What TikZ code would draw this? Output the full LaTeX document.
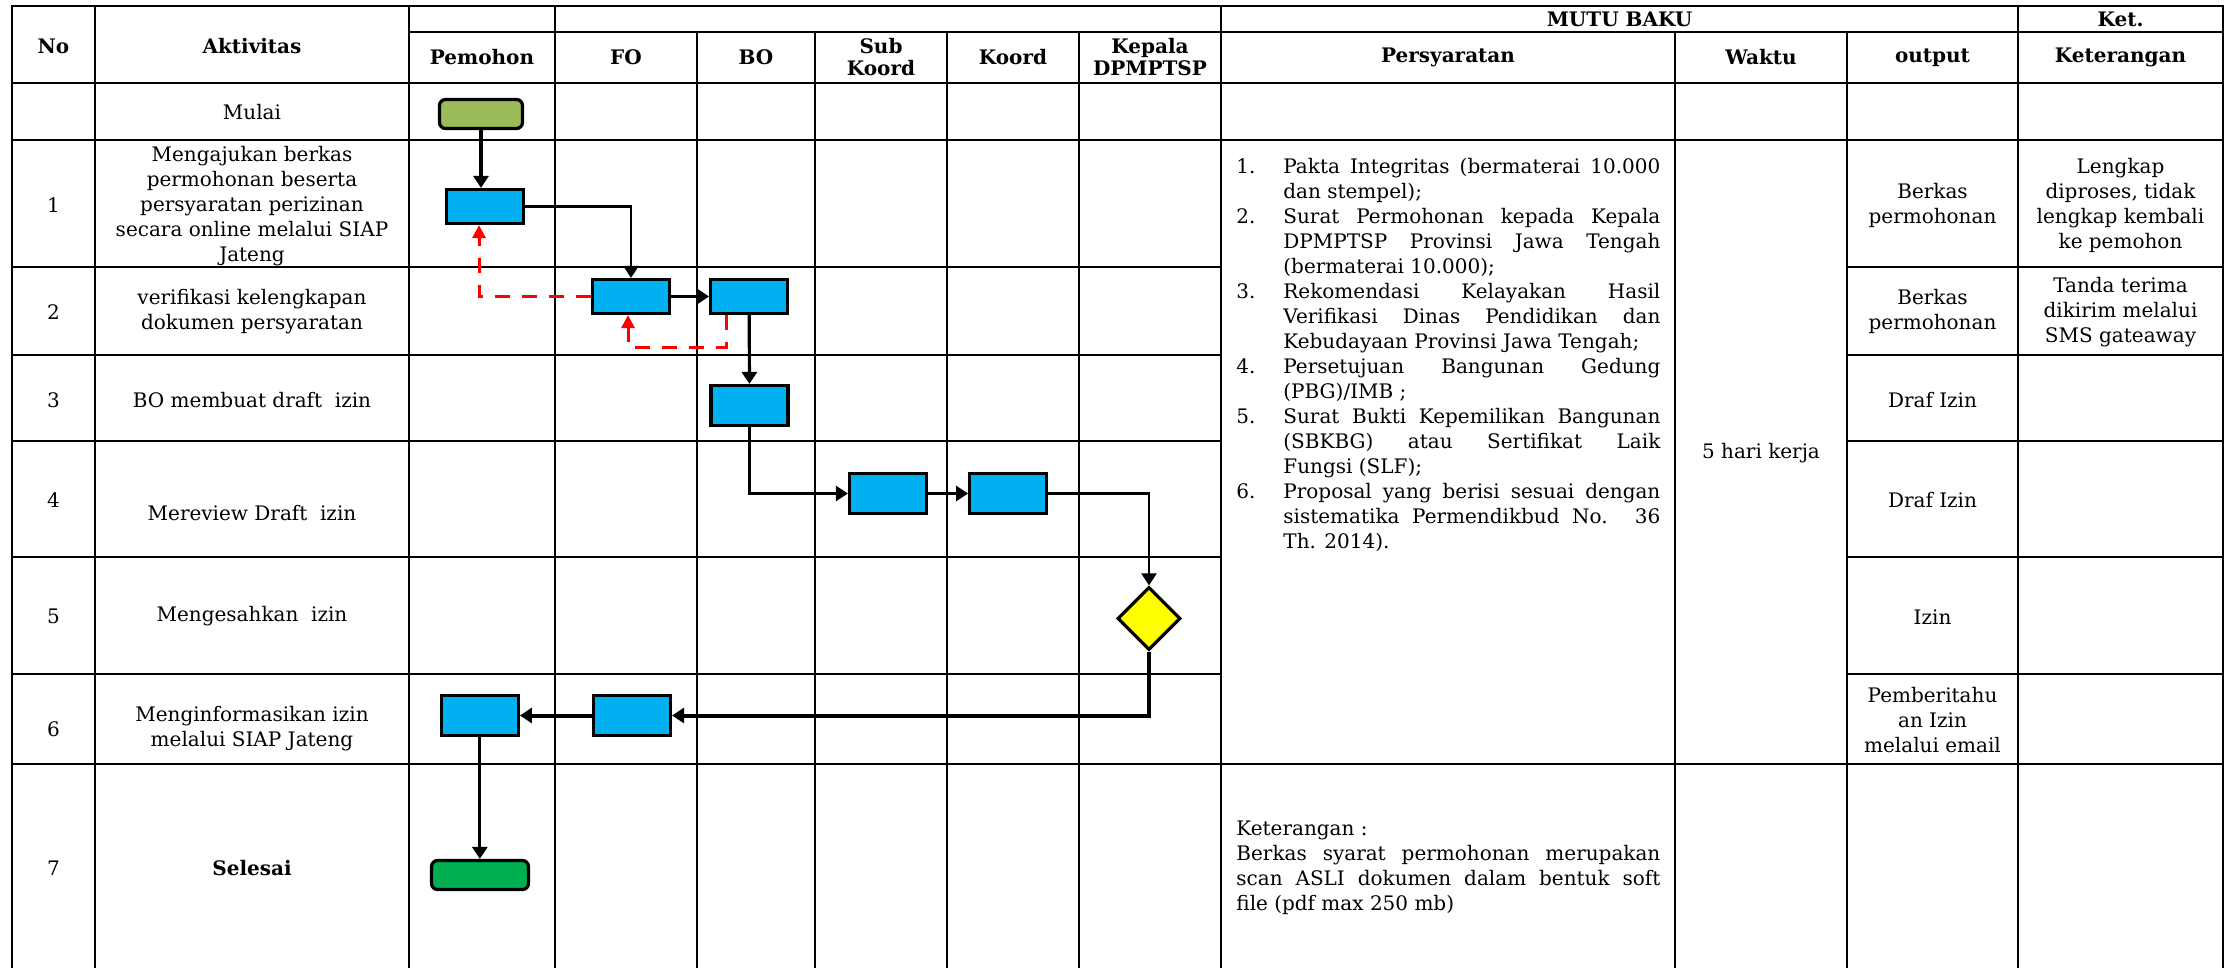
\documentclass[tikz,border=0pt]{standalone}
\usepackage{fontspec}
\setmainfont{DejaVu Serif}
\usetikzlibrary{arrows.meta,positioning,shapes.geometric}
\definecolor{sopblue}{HTML}{00B0F0}
\definecolor{sopolive}{HTML}{9BBB59}
\definecolor{sopgreen}{HTML}{00B050}
\definecolor{sopyellow}{HTML}{FFFF00}
\definecolor{sopred}{HTML}{FF0000}
\newcommand{\syt}[1]{\par\hangindent=23.5pt\hangafter=1\noindent\makebox[23.5pt][l]{#1}}

\begin{document}
\begin{tikzpicture}[
  x=0.5pt, y=-0.5pt,
  font=\fontsize{10}{12.5}\selectfont,
  grid/.style={line width=1.1pt, line cap=rect},
  hd/.style={font=\fontsize{10}{11}\selectfont\bfseries, align=center},
  txt/.style={align=center},
  para/.style={align=justify, text width=212pt, inner sep=0pt, anchor=north west},
  proc/.style={draw, line width=1.6pt, fill=sopblue, minimum width=38.5pt, minimum height=17pt, inner sep=0pt},
  term/.style={draw, line width=1.6pt, rounded corners=3pt, minimum width=41.5pt, minimum height=14.5pt, inner sep=0pt},
  dec/.style={diamond, draw, line width=1.6pt, fill=sopyellow, minimum width=31.5pt, minimum height=31.5pt, inner sep=0pt},
  arr/.style={-{Triangle[length=6pt, width=7.5pt]}, line width=1.3pt},
  back/.style={-{Triangle[length=6.5pt, width=6.5pt]}, sopred, line width=1.5pt, dash pattern=on 7.5pt off 6pt}
]
\useasboundingbox (0,0) rectangle (2238,968);

% tabel
\draw[grid] (12,6) -- (2223,6);
\draw[grid] (409,32) -- (2223,32);
\draw[grid] (12,83) -- (2223,83);
\draw[grid] (12,140) -- (2223,140);
\draw[grid] (12,764) -- (2223,764);
\foreach \y in {267,355,441,557,674} {
  \draw[grid] (12,\y) -- (1221,\y);
  \draw[grid] (1847,\y) -- (2223,\y);
}
\foreach \x in {12,95,409,555,1221,2018,2223} \draw[grid] (\x,6) -- (\x,968);
\foreach \x in {697,815,947,1079,1675,1847} \draw[grid] (\x,32) -- (\x,968);

% kepala tabel
\node[hd] (hno) at (53.5,46) {No};
\node[hd] (hakt) at (252,46) {Aktivitas};
\node[hd] (hpem) at (482,57.5) {Pemohon};
\node[hd] (hfo) at (626,57.5) {FO};
\node[hd] (hbo) at (756,57.5) {BO};
\node[hd] (hsub) at (881,57.5) {Sub\\Koord};
\node[hd] (hkoord) at (1013,57.5) {Koord};
\node[hd] (hkep) at (1150,57.5) {Kepala\\DPMPTSP};
\node[hd] (hsyarat) at (1448,57.5) {Persyaratan};
\node[hd] (hwaktu) at (1761,57.5) {Waktu};
\node[hd] (hout) at (1932.5,57.5) {output};
\node[hd] (hket) at (2120.5,57.5) {Keterangan};
\node[hd] (hmutu) at (1619.5,19) {MUTU BAKU};
\node[hd] (hket0) at (2120.5,19) {Ket.};

% nomor dan aktivitas
\node[txt] (a0) at (252,112) {Mulai};
\node[txt] (n1) at (53.5,205) {1};
\node[txt] (a1) at (252,206) {Mengajukan berkas\\permohonan beserta\\persyaratan perizinan\\secara online melalui SIAP\\Jateng};
\node[txt] (n2) at (53.5,312) {2};
\node[txt] (a2) at (252,312) {verifikasi kelengkapan\\dokumen persyaratan};
\node[txt] (n3) at (53.5,400) {3};
\node[txt] (a3) at (252,400) {BO membuat draft~ izin};
\node[txt] (n4) at (53.5,500) {4};
\node[txt] (a4) at (252,513) {Mereview Draft~ izin};
\node[txt] (n5) at (53.5,616) {5};
\node[txt] (a5) at (252,616) {Mengesahkan~ izin};
\node[txt] (n6) at (53.5,729) {6};
\node[txt] (a6) at (252,729) {Menginformasikan izin\\melalui SIAP Jateng};
\node[txt] (n7) at (53.5,868) {7};
\node[txt, font=\fontsize{10}{12.5}\selectfont\bfseries] (a7) at (252,868) {Selesai};

% mutu baku
\node[para] (syarat) at (1236,148) {%
\syt{1.}Pakta Integritas (bermaterai 10.000\linebreak dan stempel);
\syt{2.}Surat Permohonan kepada Kepala\linebreak DPMPTSP Provinsi Jawa Tengah\linebreak (bermaterai 10.000);
\syt{3.}Rekomendasi Kelayakan Hasil\linebreak Verifikasi Dinas Pendidikan dan\linebreak Kebudayaan Provinsi Jawa Tengah;
\syt{4.}Persetujuan Bangunan Gedung\linebreak (PBG)/IMB ;
\syt{5.}Surat Bukti Kepemilikan Bangunan\linebreak (SBKBG) atau Sertifikat Laik\linebreak Fungsi (SLF);
\syt{6.}Proposal yang berisi sesuai dengan\linebreak sistematika Permendikbud No. 36\linebreak Th. 2014).\par};
\node[txt] (waktu) at (1761,453) {5 hari kerja};
\node[para] (catatan) at (1236,821) {Keterangan :\newline Berkas syarat permohonan merupakan\linebreak scan ASLI dokumen dalam bentuk soft\linebreak file (pdf max 250 mb)\par};

\node[txt] (o1) at (1932.5,205) {Berkas\\permohonan};
\node[txt] (o2) at (1932.5,311) {Berkas\\permohonan};
\node[txt] (o3) at (1932.5,400) {Draf Izin};
\node[txt] (o4) at (1932.5,500) {Draf Izin};
\node[txt] (o5) at (1932.5,617) {Izin};
\node[txt] (o6) at (1932.5,720) {Pemberitahu\\an Izin\\melalui email};
\node[txt] (k1) at (2120.5,205) {Lengkap\\diproses, tidak\\lengkap kembali\\ke pemohon};
\node[txt] (k2) at (2120.5,312) {Tanda terima\\dikirim melalui\\SMS gateaway};

% alur
\node[term, fill=sopolive] (mulai) at (481,114) {};
\node[proc] (a) at (485,206.5) {};
\node[proc] (b) at (631,296.5) {};
\node[proc, right=19pt of b] (c) {};
\node[proc, minimum height=20pt] (d) at (749.5,405.5) {};
\node[proc, minimum height=20pt] (e) at (888,493.5) {};
\node[proc, minimum height=20pt, right=20pt of e] (f) {};
\node[dec] (dm) at (1149,618.5) {};
\node[proc, minimum height=20pt] (g) at (632,715.5) {};
\node[proc, minimum height=20pt, left=36pt of g] (h) {};
\node[term, fill=sopgreen, minimum width=48.5pt] (selesai) at (480,875) {};
\coordinate (cb) at (628,347);

\draw[arr, line width=1.6pt] (mulai) -- (mulai |- a.north);
\draw[arr] (a.east) -| (b.north);
\draw[arr] (b) -- (c);
\draw[back] (b.west) -| ([xshift=-3pt]a.south);
\draw[back] ([xshift=-11.5pt]c.south) |- (cb) -- (cb |- b.south);
\draw[arr, line width=1.6pt] (c) -- (d);
\draw[arr] (d.south) |- (e.west);
\draw[arr] (e) -- (f);
\draw[arr] (f.east) -| (dm.north);
\draw[arr, line width=2pt] (dm.south) |- (g.east);
\draw[arr, line width=2pt] (g) -- (h);
\draw[arr, line width=1.6pt] (h.south) -- (h.south |- selesai.north);
\end{tikzpicture}
\end{document}
